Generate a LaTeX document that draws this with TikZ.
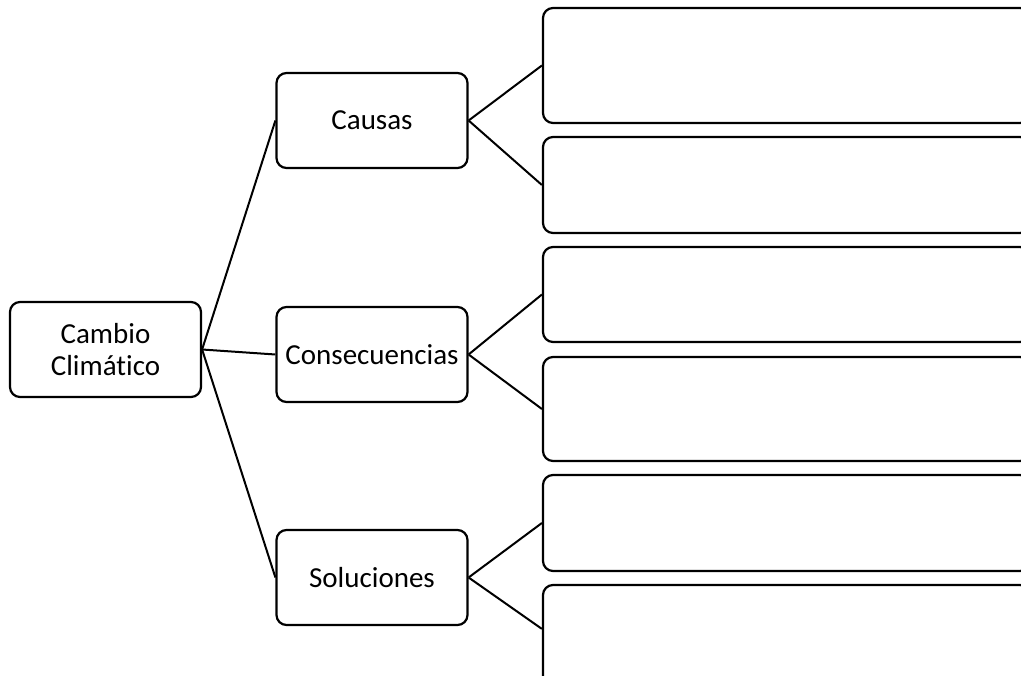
\documentclass[tikz,border=0pt]{standalone}
\usepackage{fontspec}
\setmainfont{Carlito}[Ligatures={NoCommon}]
\begin{document}
\begin{tikzpicture}[x=1pt,y=-1pt,
  box/.style={draw, line width=2.2pt, rounded corners=10pt, inner sep=0pt, align=center,
              font=\fontsize{29}{32}\selectfont},
  midbox/.style={box, minimum width=191pt, minimum height=95pt},
  rbox/.style={box, minimum width=487pt},
  link/.style={line width=2pt}]
\useasboundingbox (0,0) rectangle (1021,676);
\clip (0,0) rectangle (1021,676);
\node[box, minimum width=191pt, minimum height=95pt] (cc) at (105.5,349.5) {Cambio\\Climático};
\node[midbox] (ca) at (372,120.5) {Causas};
\node[midbox] (co) at (372,354.5) {Consecuencias};
\node[midbox] (so) at (372,577.5) {Soluciones};
\node[rbox, minimum height=115pt] (r1) at (786.5,65.5) {};
\node[rbox, minimum height=96pt] (r2) at (786.5,185) {};
\node[rbox, minimum height=95pt] (r3) at (786.5,294.5) {};
\node[rbox, minimum height=104pt] (r4) at (786.5,409) {};
\node[rbox, minimum height=96pt] (r5) at (786.5,523) {};
\node[rbox, minimum height=105pt] (r6) at (786.5,637.5) {};
\coordinate (r6in) at ([yshift=-45pt]r6.north west);
\draw[link] (cc.east) -- (ca.west);
\draw[link] (cc.east) -- (co.west);
\draw[link] (cc.east) -- (so.west);
\draw[link] (ca.east) -- (r1.west);
\draw[link] (ca.east) -- (r2.west);
\draw[link] (co.east) -- (r3.west);
\draw[link] (co.east) -- (r4.west);
\draw[link] (so.east) -- (r5.west);
\draw[link] (so.east) -- (r6in);
\end{tikzpicture}
\end{document}
